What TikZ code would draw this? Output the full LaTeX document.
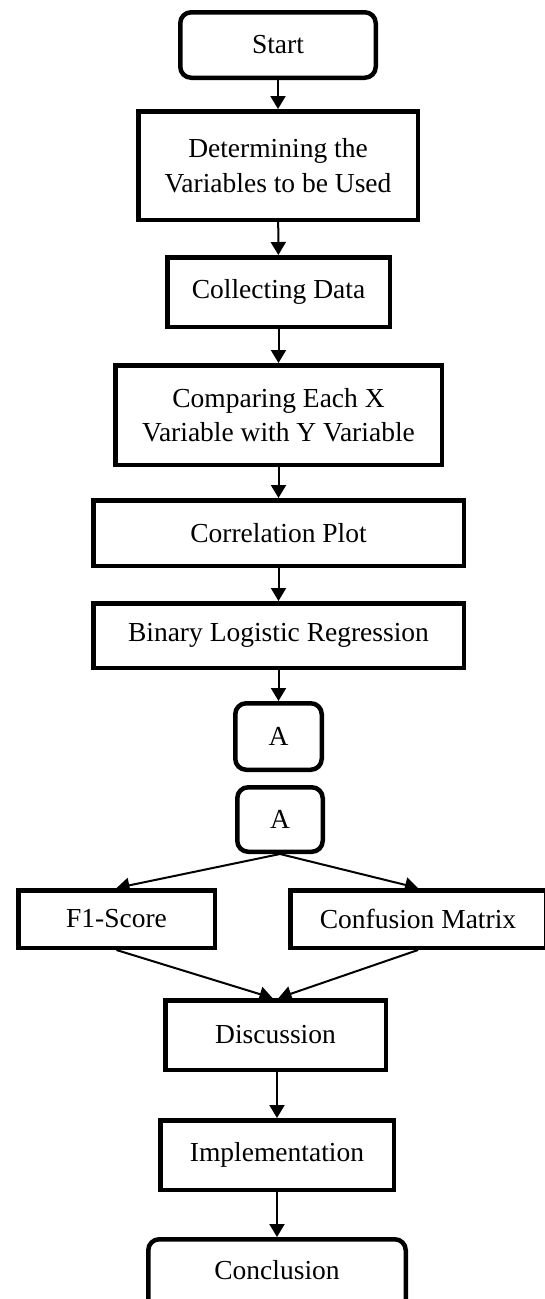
\documentclass[tikz,border=0pt]{standalone}
\usepackage{fontspec}
\setmainfont{Liberation Serif}
\usetikzlibrary{arrows.meta}

\tikzset{
  box/.style={draw, line width=4.5pt, fill=white, align=center, inner sep=2pt,
    font=\fontsize{27.5}{34.5}\selectfont},
  roundbox/.style={box, rounded corners=11pt},
  flow/.style={line width=2pt, -{Triangle[length=13pt,width=15pt]}},
}

\begin{document}
\begin{tikzpicture}[x=1pt, y=-1pt]
\useasboundingbox (0,0) rectangle (545,1299);
\clip (0,0) rectangle (545,1299);

% process steps
\node[roundbox, minimum width=195.5pt, minimum height=65.5pt] (start) at (278,45) {Start};
\node[box, minimum width=279.5pt, minimum height=108.5pt] (det) at (278,165.5) {Determining the\\Variables to be Used};
\node[box, minimum width=222.5pt, minimum height=69.5pt] (col) at (278.5,292) {Collecting Data};
\node[box, minimum width=326.5pt, minimum height=99.5pt] (cmp) at (278.5,415) {Comparing Each X\\Variable with Y Variable};
\node[box, minimum width=370.5pt, minimum height=65.5pt] (cor) at (278.5,533) {Correlation Plot};
\node[box, minimum width=370.5pt, minimum height=64.5pt] (bin) at (278.5,635.5) {Binary Logistic Regression};

% off-page connectors
\node[roundbox, minimum width=86.5pt, minimum height=66.5pt] (a1) at (278.5,736.5) {A};
\node[roundbox, minimum width=85.5pt, minimum height=64.5pt] (a2) at (280,819.5) {A};

% evaluation branches
\node[box, minimum width=196.5pt, minimum height=57.5pt] (f1) at (116.5,919) {F1-Score};
\node[box, minimum width=255.5pt, minimum height=57.5pt] (cm) at (418,919) {Confusion Matrix};

% final steps
\node[box, minimum width=220.5pt, minimum height=69.5pt] (dis) at (275.5,1035) {Discussion};
\node[box, minimum width=233.5pt, minimum height=69.5pt] (imp) at (277,1155) {Implementation};
\node[roundbox, minimum width=257.5pt, minimum height=75.5pt, text depth=0pt] (con) at (277,1277) {\raisebox{14pt}{Conclusion}};

% connectors
\draw[flow] (start) -- (det);
\draw[flow] (det) -- (col);
\draw[flow] (col.south) -- (col.south |- cmp.north);
\draw[flow] (cmp) -- (cor);
\draw[flow] (cor) -- (bin);
\draw[flow] (bin.south) -- (bin.south |- a1.north);
\draw[flow] (a2.south) -- (f1.north);
\draw[flow] (a2.south) -- (cm.north);
\draw[flow] (f1.south) -- ([xshift=-3pt]dis.north);
\draw[flow] (cm.south) -- ([xshift=3pt]dis.north);
\draw[flow] (dis.south -| imp.south) -- (imp.south |- imp.north);
\draw[flow] (imp.south) -- (imp.south |- con.north);
\end{tikzpicture}
\end{document}
